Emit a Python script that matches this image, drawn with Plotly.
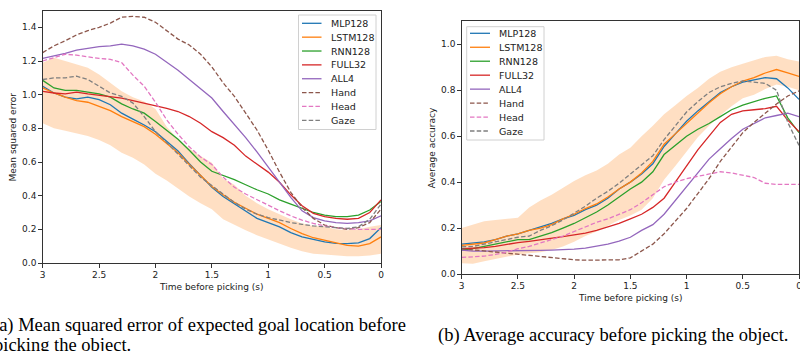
import plotly.graph_objects as go

# ---------------- data ----------------
time_s = [3.0, 2.9, 2.8, 2.7, 2.6, 2.5, 2.4, 2.3, 2.2, 2.1, 2.0, 1.9, 1.8, 1.7, 1.6, 1.5,
          1.4, 1.3, 1.2, 1.1, 1.0, 0.9, 0.8, 0.7, 0.6, 0.5, 0.4, 0.3, 0.2, 0.1, 0.0]

series_names = ["MLP128", "LSTM128", "RNN128", "FULL32", "ALL4", "Hand", "Head", "Gaze"]

# (a) mean squared error
mse_mlp128 = [1.05, 1.01, 0.985, 0.975, 0.985, 0.97, 0.94, 0.89, 0.855, 0.82, 0.78, 0.72, 0.665, 0.59, 0.52, 0.45,
              0.395, 0.35, 0.305, 0.265, 0.24, 0.215, 0.18, 0.155, 0.14, 0.125, 0.117, 0.115, 0.12, 0.145, 0.21]
mse_lstm128 = [1.04, 1.01, 0.985, 0.965, 0.955, 0.93, 0.905, 0.87, 0.84, 0.81, 0.765, 0.71, 0.655, 0.585, 0.52, 0.455,
               0.405, 0.36, 0.325, 0.29, 0.265, 0.24, 0.205, 0.175, 0.15, 0.135, 0.12, 0.105, 0.10, 0.115, 0.155]
mse_rnn128 = [1.085, 1.04, 1.025, 1.025, 1.015, 1.005, 0.985, 0.945, 0.915, 0.89, 0.84, 0.79, 0.735, 0.67, 0.60, 0.545,
              0.52, 0.495, 0.465, 0.435, 0.41, 0.375, 0.35, 0.325, 0.30, 0.285, 0.275, 0.275, 0.285, 0.315, 0.365]
mse_full32 = [1.02, 1.01, 1.005, 1.015, 1.005, 0.997, 0.99, 0.98, 0.965, 0.95, 0.935, 0.918, 0.90, 0.87, 0.83, 0.78,
              0.745, 0.70, 0.635, 0.585, 0.54, 0.48, 0.405, 0.34, 0.295, 0.275, 0.265, 0.26, 0.265, 0.30, 0.375]
mse_all4 = [1.215, 1.23, 1.245, 1.265, 1.275, 1.285, 1.29, 1.30, 1.29, 1.27, 1.24, 1.195, 1.145, 1.09, 1.035, 0.98,
            0.90, 0.825, 0.745, 0.66, 0.57, 0.48, 0.39, 0.31, 0.27, 0.25, 0.24, 0.235, 0.24, 0.25, 0.28]
mse_hand = [1.25, 1.29, 1.32, 1.355, 1.38, 1.40, 1.425, 1.46, 1.465, 1.46, 1.43, 1.38, 1.33, 1.295, 1.24, 1.165,
            1.07, 0.99, 0.89, 0.79, 0.67, 0.54, 0.42, 0.33, 0.265, 0.225, 0.21, 0.20, 0.21, 0.24, 0.32]
mse_head = [1.20, 1.22, 1.24, 1.235, 1.225, 1.215, 1.21, 1.19, 1.116, 1.05, 0.955, 0.85, 0.765, 0.69, 0.63, 0.585,
            0.51, 0.45, 0.41, 0.375, 0.34, 0.31, 0.28, 0.255, 0.235, 0.22, 0.21, 0.205, 0.20, 0.20, 0.20]
mse_gaze = [1.09, 1.10, 1.10, 1.11, 1.09, 1.05, 1.01, 0.99, 0.95, 0.87, 0.78, 0.715, 0.645, 0.58, 0.51, 0.46,
            0.41, 0.36, 0.32, 0.29, 0.27, 0.255, 0.24, 0.23, 0.22, 0.215, 0.21, 0.205, 0.215, 0.26, 0.35]
mse_band_upper = [1.19, 1.22, 1.20, 1.18, 1.16, 1.12, 1.07, 1.02, 0.985, 0.96, 0.915, 0.81, 0.735, 0.68, 0.635, 0.595,
                  0.50, 0.465, 0.40, 0.355, 0.32, 0.29, 0.26, 0.235, 0.22, 0.215, 0.20, 0.195, 0.20, 0.215, 0.225]
mse_band_lower = [0.83, 0.80, 0.785, 0.77, 0.755, 0.73, 0.70, 0.655, 0.625, 0.585, 0.53, 0.49, 0.44, 0.395, 0.355, 0.32,
                  0.26, 0.225, 0.195, 0.165, 0.14, 0.115, 0.09, 0.07, 0.055, 0.05, 0.045, 0.04, 0.04, 0.045, 0.055]

# (b) average accuracy
acc_mlp128 = [0.13, 0.135, 0.14, 0.15, 0.165, 0.175, 0.19, 0.205, 0.22, 0.24, 0.255, 0.28, 0.30, 0.33, 0.37, 0.40,
              0.435, 0.48, 0.555, 0.61, 0.665, 0.71, 0.75, 0.79, 0.815, 0.835, 0.845, 0.855, 0.85, 0.81, 0.76]
acc_lstm128 = [0.125, 0.13, 0.135, 0.15, 0.165, 0.175, 0.19, 0.20, 0.215, 0.24, 0.26, 0.285, 0.305, 0.335, 0.37, 0.40,
               0.44, 0.49, 0.565, 0.61, 0.655, 0.70, 0.745, 0.785, 0.815, 0.84, 0.855, 0.875, 0.89, 0.875, 0.86]
acc_rnn128 = [0.104, 0.11, 0.12, 0.13, 0.14, 0.15, 0.15, 0.165, 0.18, 0.20, 0.22, 0.245, 0.27, 0.30, 0.335, 0.37,
              0.40, 0.445, 0.52, 0.56, 0.60, 0.63, 0.655, 0.685, 0.715, 0.735, 0.75, 0.765, 0.775, 0.68, 0.615]
acc_full32 = [0.11, 0.112, 0.115, 0.12, 0.13, 0.137, 0.142, 0.15, 0.155, 0.163, 0.17, 0.178, 0.19, 0.205, 0.22, 0.24,
              0.26, 0.29, 0.33, 0.40, 0.47, 0.54, 0.60, 0.66, 0.695, 0.71, 0.715, 0.72, 0.73, 0.67, 0.62]
acc_all4 = [0.104, 0.10, 0.10, 0.10, 0.10, 0.10, 0.102, 0.103, 0.104, 0.105, 0.108, 0.113, 0.12, 0.13, 0.143, 0.16,
            0.19, 0.215, 0.26, 0.32, 0.385, 0.445, 0.50, 0.545, 0.59, 0.63, 0.655, 0.68, 0.69, 0.70, 0.685]
acc_hand = [0.11, 0.105, 0.10, 0.095, 0.09, 0.085, 0.082, 0.075, 0.07, 0.066, 0.062, 0.06, 0.06, 0.06, 0.062, 0.07,
            0.10, 0.13, 0.175, 0.23, 0.285, 0.35, 0.415, 0.49, 0.555, 0.615, 0.66, 0.70, 0.74, 0.775, 0.797]
acc_head = [0.072, 0.075, 0.078, 0.085, 0.095, 0.11, 0.12, 0.135, 0.15, 0.165, 0.185, 0.205, 0.225, 0.24, 0.26, 0.28,
            0.31, 0.345, 0.38, 0.40, 0.415, 0.425, 0.435, 0.445, 0.44, 0.43, 0.42, 0.395, 0.39, 0.39, 0.39]
acc_gaze = [0.118, 0.12, 0.13, 0.14, 0.15, 0.16, 0.165, 0.19, 0.21, 0.235, 0.265, 0.295, 0.33, 0.36, 0.395, 0.435,
            0.475, 0.515, 0.585, 0.645, 0.705, 0.75, 0.79, 0.815, 0.83, 0.84, 0.835, 0.83, 0.80, 0.66, 0.56]
acc_band_upper = [0.20, 0.215, 0.23, 0.235, 0.24, 0.245, 0.29, 0.32, 0.345, 0.375, 0.405, 0.43, 0.45, 0.48, 0.52, 0.55,
                  0.60, 0.645, 0.695, 0.735, 0.775, 0.81, 0.85, 0.88, 0.90, 0.915, 0.93, 0.945, 0.95, 0.935, 0.925]
acc_band_lower = [0.047, 0.045, 0.055, 0.065, 0.075, 0.085, 0.09, 0.095, 0.105, 0.12, 0.14, 0.165, 0.185, 0.21, 0.235, 0.255,
                  0.28, 0.33, 0.41, 0.47, 0.535, 0.595, 0.645, 0.69, 0.73, 0.765, 0.78, 0.805, 0.825, 0.815, 0.80]

x_ticks = [3, 2.5, 2, 1.5, 1, 0.5, 0]
x_tick_text = ["3", "2.5", "2", "1.5", "1", "0.5", "0"]

# ---------------- styles ----------------
W, H = 800, 351
colors = {"MLP128": "#1f77b4", "LSTM128": "#ff7f0e", "RNN128": "#2ca02c", "FULL32": "#d62728",
          "ALL4": "#9467bd", "Hand": "#8c564b", "Head": "#e377c2", "Gaze": "#7f7f7f"}
dashed = {"Hand", "Head", "Gaze"}
DASH = "4.5px,2.2px"
LW = 1.3
band_color = "rgba(255,127,14,0.25)"
tick_font = dict(family="DejaVu Sans", size=9, color="#222")


def px(x):
    return x / W


def py(y):
    return 1 - y / H


fig = go.Figure()

panels = [
    ("x", "y", [mse_mlp128, mse_lstm128, mse_rnn128, mse_full32, mse_all4, mse_hand, mse_head, mse_gaze],
     mse_band_lower, mse_band_upper),
    ("x2", "y2", [acc_mlp128, acc_lstm128, acc_rnn128, acc_full32, acc_all4, acc_hand, acc_head, acc_gaze],
     acc_band_lower, acc_band_upper),
]

for xa, ya, ys, lo, hi in panels:
    fig.add_trace(go.Scatter(x=time_s, y=lo, xaxis=xa, yaxis=ya, mode="lines",
                             line=dict(width=0, color=band_color), showlegend=False, hoverinfo="skip"))
    fig.add_trace(go.Scatter(x=time_s, y=hi, xaxis=xa, yaxis=ya, mode="lines", fill="tonexty",
                             fillcolor=band_color, line=dict(width=0, color=band_color),
                             showlegend=False, hoverinfo="skip"))
    for name, vals in zip(series_names, ys):
        fig.add_trace(go.Scatter(x=time_s, y=vals, xaxis=xa, yaxis=ya, mode="lines", name=name,
                                 line=dict(color=colors[name], width=LW,
                                           dash=DASH if name in dashed else "solid"),
                                 showlegend=False))

# axes geometry (pixels)
L1, R1, T1, B1 = 42.7, 381.0, 11.0, 263.0
L2, R2, T2, B2 = 461.7, 799.0, 21.3, 274.0

axis_common = dict(showline=True, linecolor="#333", linewidth=1, mirror=True, ticks="outside",
                   ticklen=3.5, tickwidth=1, tickcolor="#333", showgrid=False, zeroline=False,
                   tickfont=tick_font, automargin=False, ticklabeloverflow="allow")

fig.update_layout(
    width=W, height=H, margin=dict(l=0, r=0, t=0, b=0),
    paper_bgcolor="white", plot_bgcolor="white", showlegend=False,
    xaxis=dict(domain=[px(L1), px(R1)], range=[3, 0], anchor="y", tickvals=x_ticks, ticktext=x_tick_text,
               **axis_common),
    yaxis=dict(domain=[py(B1), py(T1)], range=[0, 1.497], anchor="x", dtick=0.2, tick0=0, tickformat=".1f",
               **axis_common),
    xaxis2=dict(domain=[px(L2), px(R2)], range=[3, 0], anchor="y2", tickvals=x_ticks, ticktext=x_tick_text,
                **axis_common),
    yaxis2=dict(domain=[py(B2), py(T2)], range=[0, 1.1], anchor="x2", dtick=0.2, tick0=0, tickformat=".1f",
                **axis_common),
)

annotations = []
shapes = []
label_font = dict(family="DejaVu Sans", size=9, color="#222")

# axis titles
annotations.append(dict(x=px((L1 + R1) / 2), y=py(287), xref="paper", yref="paper", text="Time before picking (s)",
                        showarrow=False, font=label_font, xanchor="center", yanchor="middle"))
annotations.append(dict(x=px((L2 + R2) / 2), y=py(298), xref="paper", yref="paper", text="Time before picking (s)",
                        showarrow=False, font=label_font, xanchor="center", yanchor="middle"))
annotations.append(dict(x=px(12.5), y=py((T1 + B1) / 2), xref="paper", yref="paper", text="Mean squared error",
                        showarrow=False, font=label_font, textangle=-90, xanchor="center", yanchor="middle"))
annotations.append(dict(x=px(431.5), y=py((T2 + B2) / 2), xref="paper", yref="paper", text="Average accuracy",
                        showarrow=False, font=label_font, textangle=-90, xanchor="center", yanchor="middle"))


# legends (drawn compactly like matplotlib)
def add_legend(box_l, box_t, box_r, box_b, line_x0, line_x1, text_x, first_y, step):
    shapes.append(dict(type="rect", xref="paper", yref="paper", x0=px(box_l), x1=px(box_r),
                       y0=py(box_b), y1=py(box_t), line=dict(color="#d0d0d0", width=1),
                       fillcolor="rgba(255,255,255,0.85)", layer="above"))
    for i, name in enumerate(series_names):
        yy = first_y + i * step
        shapes.append(dict(type="line", xref="paper", yref="paper", x0=px(line_x0), x1=px(line_x1),
                           y0=py(yy), y1=py(yy), layer="above",
                           line=dict(color=colors[name], width=LW, dash=DASH if name in dashed else "solid")))
        annotations.append(dict(x=px(text_x), y=py(yy), xref="paper", yref="paper", text=name, showarrow=False,
                                font=dict(family="DejaVu Sans", size=9.5, color="#222"),
                                xanchor="left", yanchor="middle"))


add_legend(298.5, 15.0, 376.0, 129.5, 302.0, 321.5, 329.0, 23.3, 13.86)
add_legend(466.7, 26.7, 544.0, 140.0, 470.0, 490.0, 497.0, 33.3, 13.96)

# captions
cap_font = dict(family="Liberation Serif", size=18.5, color="black")
annotations.append(dict(x=px(-9), y=py(325), xref="paper", yref="paper",
                        text="(a) Mean squared error of expected goal location before", showarrow=False,
                        font=cap_font, xanchor="left", yanchor="middle"))
annotations.append(dict(x=px(-8), y=py(345), xref="paper", yref="paper", text="picking the object.",
                        showarrow=False, font=cap_font, xanchor="left", yanchor="middle"))
annotations.append(dict(x=px(612.5), y=py(335), xref="paper", yref="paper",
                        text="(b) Average accuracy before picking the object.", showarrow=False,
                        font=cap_font, xanchor="center", yanchor="middle"))

fig.update_layout(annotations=annotations, shapes=shapes)

fig.write_html("out.html")
